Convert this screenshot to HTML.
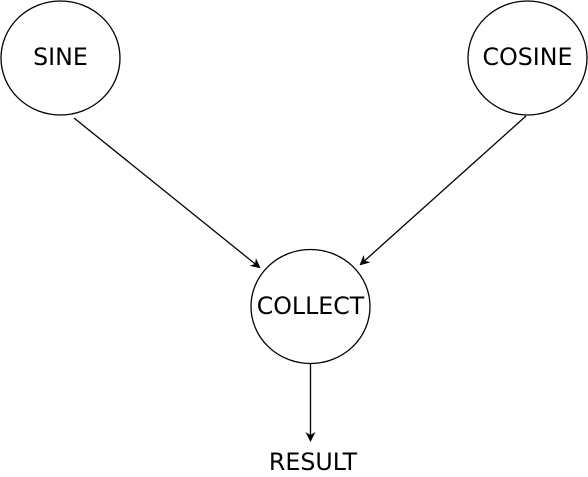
<!DOCTYPE html>
<html><head><style>html,body{margin:0;padding:0;background:#fff;}svg{display:block}text{font-family:"DejaVu Sans",sans-serif;font-size:23.7px;}</style></head>
<body>
<svg width="588" height="477" viewBox="0 0 588 477" xmlns="http://www.w3.org/2000/svg">
<defs><marker id="a" markerWidth="10" markerHeight="10" refX="8" refY="5" orient="auto" markerUnits="userSpaceOnUse"><path d="M0,0 L10,5 L0,10 L3,5 Z" fill="#000"/></marker></defs>
<g fill="#fff" stroke="#000" stroke-width="1.3">
<ellipse cx="60.5" cy="58" rx="59.5" ry="57"/>
<ellipse cx="527.5" cy="58" rx="59.5" ry="57"/>
<ellipse cx="310.5" cy="306.5" rx="59.5" ry="57"/>
</g>
<g stroke="#000" stroke-width="1.3" fill="none">
<line x1="74" y1="118" x2="259" y2="267" marker-end="url(#a)"/>
<line x1="526" y1="116" x2="361" y2="264" marker-end="url(#a)"/>
<line x1="310.5" y1="364" x2="310.5" y2="440" marker-end="url(#a)"/>
</g>
<g text-anchor="middle" fill="#000">
<text x="60.5" y="65">SINE</text>
<text x="527.5" y="65">COSINE</text>
<text x="310.5" y="314">COLLECT</text>
<text x="313" y="470">RESULT</text>
</g>
</svg>
</body></html>
